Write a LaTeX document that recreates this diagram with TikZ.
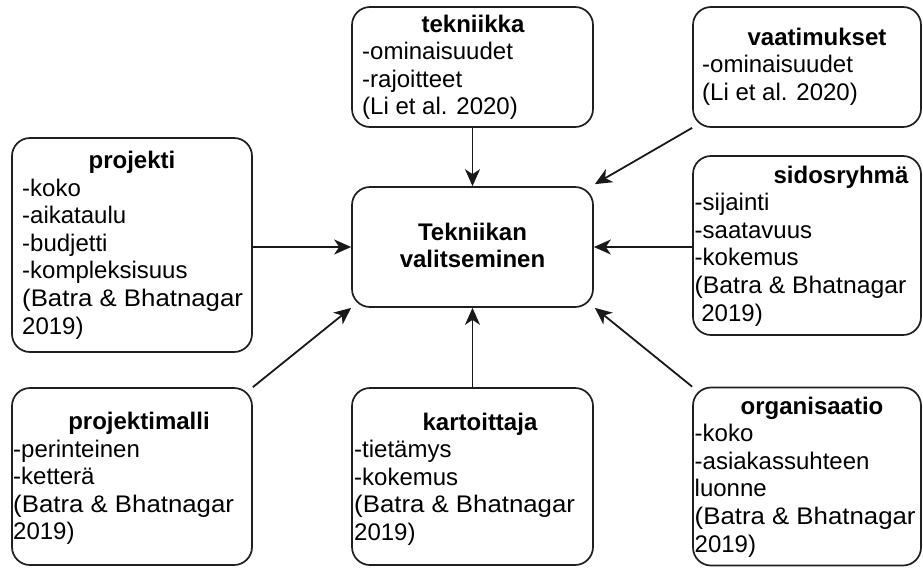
\documentclass[tikz,border=0pt]{standalone}
\usepackage{fontspec}
\usepackage{graphicx}
\setmainfont{Liberation Sans}
\usetikzlibrary{arrows.meta}
\tikzset{
  box/.style={draw=black!88, line width=1.7pt, rounded corners=18pt, inner sep=0pt, fill=white},
  txt/.style={inner sep=0pt, anchor=base west, font=\fontsize{24}{27.6}\selectfont},
  ttl/.style={inner sep=0pt, anchor=base, font=\fontsize{24}{27.6}\selectfont\bfseries},
  arr/.style={draw=black!90, line width=1.8pt, -{Stealth[length=17pt,width=15pt,inset=5pt]}}
}
\newcommand{\lines}[1]{\begin{tabular}[t]{@{}l@{}}#1\end{tabular}}
\newcommand{\bb}[1][1.075]{\scalebox{#1}[1]{(Batra \& Bhatnagar}}
\begin{document}
\begin{tikzpicture}[x=1pt,y=-1pt]
\useasboundingbox (0,0) rectangle (923,568);
% boxes
\node[box, minimum width=241pt, minimum height=120pt] (tek)  at (472.5,67) {};
\node[box, minimum width=228pt, minimum height=120pt] (vaat) at (807,67) {};
\node[box, minimum width=240pt, minimum height=214pt] (proj) at (132,245) {};
\node[box, minimum width=241pt, minimum height=120pt] (cen)  at (472.5,247) {};
\node[box, minimum width=228pt, minimum height=179pt] (sid)  at (807,245.5) {};
\node[box, minimum width=240pt, minimum height=177pt] (pm)   at (132,476.5) {};
\node[box, minimum width=241pt, minimum height=177pt] (kart) at (472.5,476.5) {};
\node[box, minimum width=228pt, minimum height=178pt] (org)  at (807,476.5) {};
% titles
\node[ttl] (tekH)  at (473,32) {tekniikka};
\node[ttl] (vaatH) at (817,45) {vaatimukset};
\node[ttl] (projH) at (132,168.5) {projekti};
\node[ttl] (sidH)  at (841,183) {sidosryhmä};
\node[ttl] (pmH)   at (139,429.5) {projektimalli};
\node[ttl] (kartH) at (480,430) {kartoittaja};
\node[ttl] (orgH)  at (812,414) {organisaatio};
\node[ttl] (cenT)  at (472.5,240) {\begin{tabular}[t]{@{}c@{}}Tekniikan\\valitseminen\end{tabular}};
% item lists
\node[txt] (tekL)  at (362,59.6) {\lines{-ominaisuudet\\-rajoitteet\\(Li et al. 2020)}};
\node[txt] (vaatL) at (702,72.6) {\lines{-ominaisuudet\\(Li et al. 2020)}};
\node[txt] (projL) at (22,196.1) {\lines{-koko\\-aikataulu\\-budjetti\\-kompleksisuus\\\bb\\2019)}};
\node[txt] (sidL)  at (694.5,210.6) {\lines{-sijainti\\-saatavuus\\-kokemus\\\bb[1.03]\\\ 2019)}};
\node[txt] (pmL)   at (13,457.1) {\lines{-perinteinen\\-ketterä\\\bb\\2019)}};
\node[txt] (kartL) at (354,457.6) {\lines{-tietämys\\-kokemus\\\bb\\2019)}};
\node[txt] (orgL)  at (694.5,441.6) {\lines{-koko\\-asiakassuhteen\\luonne\\\bb\\2019)}};
% connectors
\draw[arr] (tek.south) -- (cen.north);
\draw[arr] (kart.north) -- (cen.south);
\draw[arr] (proj.east |- cen.west) -- (cen.west);
\draw[arr] (sid.west |- cen.east) -- (cen.east);
\draw[arr] (vaat.south west) -- ([xshift=1pt,yshift=2pt]cen.north east);
\draw[arr] (org.north west) -- ([xshift=1pt]cen.south east);
\draw[arr] (pm.north east) -- (cen.south west);
\end{tikzpicture}
\end{document}
